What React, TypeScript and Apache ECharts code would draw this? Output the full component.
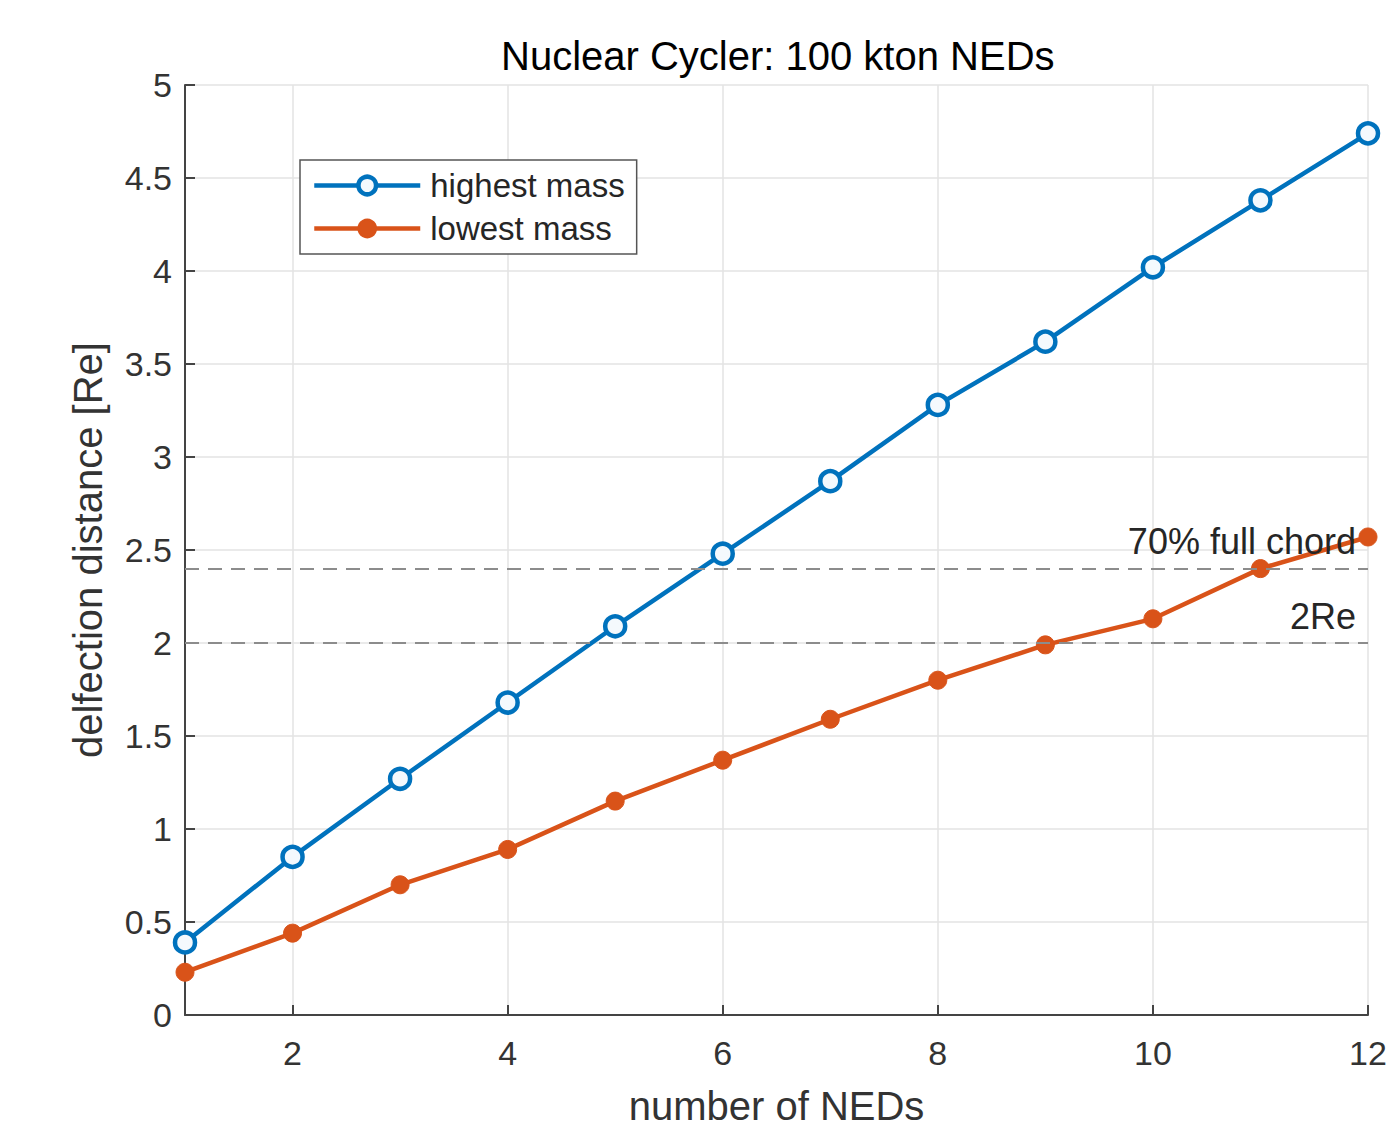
import React, { useEffect, useRef } from "react";
import * as echarts from "echarts";

const nedCounts = [1, 2, 3, 4, 5, 6, 7, 8, 9, 10, 11, 12];
const highestMass = [0.39, 0.85, 1.27, 1.68, 2.09, 2.48, 2.87, 3.28, 3.62, 4.02, 4.38, 4.74];
const lowestMass = [0.23, 0.44, 0.7, 0.89, 1.15, 1.37, 1.59, 1.8, 1.99, 2.13, 2.4, 2.57];
const xTickValues = [2, 4, 6, 8, 10, 12];
const refLines = [
  { value: 2.4, label: "70% full chord" },
  { value: 2.0, label: "2Re" },
];

const FONT = "Liberation Sans, Arial, sans-serif";
const BLUE = "#0072BD";
const ORANGE = "#D95319";
const TXT = "#262626";

export default function App() {
  const ref = useRef<HTMLDivElement>(null);
  useEffect(() => {
    if (!ref.current) return;
    const chart = echarts.init(ref.current, undefined, { renderer: "svg" });
    chart.setOption({
      animation: false,
      backgroundColor: "#ffffff",
      textStyle: { fontFamily: FONT },
      graphic: [
        {
          type: "text",
          left: 501,
          top: 36,
          style: {
            text: "Nuclear Cycler: 100 kton NEDs",
            fontFamily: FONT,
            fontSize: 40,
            fill: "#000",
          },
        },
      ],
      legend: {
        left: 300,
        top: 160,
        orient: "vertical",
        data: [
          { name: "highest mass", lineStyle: { width: 4.5 }, itemStyle: { borderWidth: 4.5 } },
          { name: "lowest mass", lineStyle: { width: 4.5 } },
        ],
        itemWidth: 106,
        itemHeight: 22,
        itemGap: 10,
        padding: [9, 12, 9, 12],
        borderColor: "#555",
        borderWidth: 1.5,
        borderRadius: 0,
        backgroundColor: "#fff",
        textStyle: { fontFamily: FONT, fontSize: 33, color: TXT, padding: [0, 0, 0, 5] },
      },
      grid: { left: 185, right: 31, top: 85, bottom: 117 },
      xAxis: {
        type: "value",
        min: 1,
        max: 12,
        name: "number of NEDs",
        nameLocation: "middle",
        nameGap: 71,
        nameTextStyle: { fontFamily: FONT, fontSize: 40, color: "#333" },
        axisLine: { show: true, lineStyle: { color: "#444", width: 2 } },
        axisTick: { show: true, inside: true, length: 10, customValues: xTickValues, lineStyle: { color: "#444", width: 2 } },
        axisLabel: { customValues: xTickValues, fontFamily: FONT, fontSize: 34, color: "#333", margin: 21 },
        splitLine: { show: true, lineStyle: { color: "#e3e3e3", width: 1.5 } },
      },
      yAxis: {
        type: "value",
        min: 0,
        max: 5,
        interval: 0.5,
        name: "delfection distance [Re]",
        nameLocation: "middle",
        nameGap: 77,
        nameTextStyle: { fontFamily: FONT, fontSize: 40, color: "#333" },
        axisLine: { show: true, lineStyle: { color: "#444", width: 2 } },
        axisTick: { show: true, inside: true, length: 10, lineStyle: { color: "#444", width: 2 } },
        axisLabel: { fontFamily: FONT, fontSize: 34, color: "#333", margin: 13 },
        splitLine: { show: true, lineStyle: { color: "#e3e3e3", width: 1.5 } },
      },
      series: [
        {
          name: "refs",
          type: "line",
          data: [],
          z: 1,
          markLine: {
            silent: true,
            symbol: "none",
            lineStyle: { color: "#8c8c8c", type: [14, 9], width: 2 },
            label: {
              show: true,
              position: "insideEndTop",
              formatter: (p: any) => p.name,
              fontFamily: FONT,
              fontSize: 36,
              color: TXT,
              distance: [12, 9],
            },
            data: refLines.map((r) => ({ yAxis: r.value, name: r.label })),
          },
        },
        {
          name: "highest mass",
          type: "line",
          z: 3,
          data: nedCounts.map((n, i) => [n, highestMass[i]]),
          symbol: "circle",
          symbolSize: 20,
          lineStyle: { color: BLUE, width: 4.5 },
          itemStyle: { color: "#f4f9fd", borderColor: BLUE, borderWidth: 4.5 },
        },
        {
          name: "lowest mass",
          type: "line",
          z: 3,
          data: nedCounts.map((n, i) => [n, lowestMass[i]]),
          symbol: "circle",
          symbolSize: 18,
          lineStyle: { color: ORANGE, width: 4.5 },
          itemStyle: { color: ORANGE, borderColor: ORANGE, borderWidth: 1 },
        },
      ],
    });
    return () => chart.dispose();
  }, []);
  return (
    <div
      ref={ref}
      style={{ position: "absolute", left: 0, top: 0, width: 1399, height: 1132 }}
    />
  );
}
